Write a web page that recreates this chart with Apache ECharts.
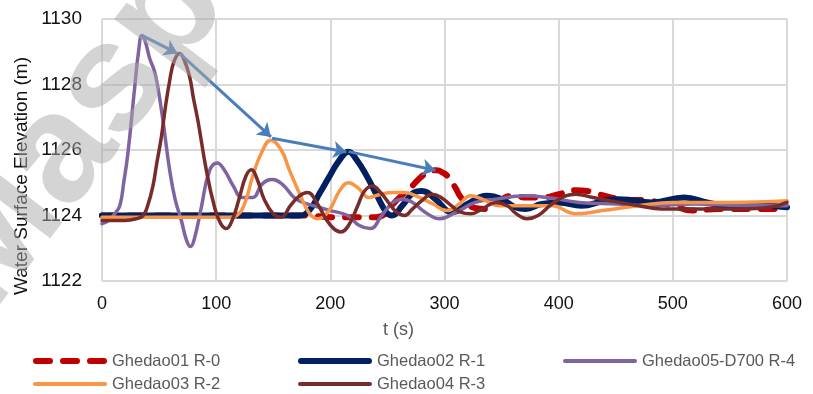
<!DOCTYPE html>
<html>
<head>
<meta charset="utf-8">
<script src="https://cdn.jsdelivr.net/npm/echarts@6/dist/echarts.min.js"></script>
<style>
  html, body { margin: 0; padding: 0; background: #fff; }
  #chart { width: 813px; height: 394px; }
</style>
</head>
<body>
<div id="chart"></div>
<script>
// axis ticks
const xTicks = [0, 100, 200, 300, 400, 500, 600]
const yTicks = [1122, 1124, 1126, 1128, 1130]

// [t (s), elevation (m)]
const ghedao01 = [[0,1124.0],[100,1124.0],[180,1124.0],[200,1123.95],[240,1123.95],[248,1124.05],[255,1124.35],[262,1124.6],[269,1124.8],[278,1125.13],[286,1125.33],[293,1125.38],[299,1125.3],[304,1125.15],[310,1124.82],[314,1124.57],[320,1124.35],[328,1124.22],[336,1124.2],[345,1124.35],[353,1124.55],[360,1124.6],[372,1124.55],[385,1124.55],[400,1124.65],[415,1124.77],[425,1124.75],[435,1124.65],[454,1124.5],[480,1124.45],[500,1124.3],[517,1124.15],[540,1124.2],[570,1124.2],[593,1124.2],[600,1124.3]]
const ghedao02 = [[0,1124.0],[100,1124.0],[173,1124.0],[181.7,1124.16],[190.5,1124.67],[199,1125.18],[208,1125.69],[216,1125.95],[223,1125.7],[232,1125.2],[241,1124.6],[249,1124.1],[254,1124.0],[263,1124.3],[273,1124.7],[280,1124.75],[292,1124.5],[302,1124.15],[307,1124.1],[320,1124.35],[337,1124.6],[350,1124.5],[362,1124.25],[371,1124.2],[385,1124.35],[400,1124.4],[420,1124.3],[440,1124.45],[453,1124.5],[482,1124.4],[510,1124.55],[530,1124.4],[550,1124.3],[580,1124.3],[600,1124.25]]
const ghedao05 = [[0,1123.75],[6,1123.85],[11,1124.05],[15.6,1124.3],[19,1125.0],[22.7,1125.9],[28.6,1127.9],[32,1129.0],[35,1129.5],[38,1129.3],[41.7,1128.8],[46,1128.4],[49,1127.9],[53.4,1126.9],[59.2,1125.4],[64,1124.5],[69.5,1123.85],[74,1123.25],[77.6,1123.05],[81,1123.3],[87,1124.25],[94,1125.35],[101,1125.6],[107,1125.4],[115,1124.9],[123,1124.55],[132,1124.55],[140,1124.95],[149,1125.1],[158,1124.95],[170,1124.5],[185,1124.3],[200,1124.15],[215,1124.0],[225,1123.7],[235,1123.6],[245,1124.0],[255,1124.4],[263,1124.5],[272,1124.4],[283,1124.1],[296,1123.9],[310,1124.1],[327,1124.4],[345,1124.5],[370,1124.6],[390,1124.55],[418,1124.4],[450,1124.35],[480,1124.3],[520,1124.35],[560,1124.3],[600,1124.3]]
const ghedao03 = [[0,1123.95],[50,1123.95],[100,1123.95],[112,1123.95],[118,1124.0],[124.8,1124.35],[132,1125.2],[139.5,1125.9],[148,1126.3],[157,1126.0],[164,1125.4],[173,1124.67],[181.7,1124.06],[189,1123.9],[199,1124.16],[208,1124.75],[216,1125.0],[224,1124.85],[234,1124.55],[244,1124.65],[255,1124.7],[265,1124.7],[278,1124.55],[290,1124.35],[302,1124.15],[313,1124.35],[323,1124.6],[333,1124.5],[348,1124.3],[370,1124.3],[394,1124.3],[415,1124.05],[438,1124.15],[470,1124.3],[500,1124.4],[550,1124.4],[600,1124.45]]
const ghedao04 = [[0,1123.85],[20,1123.85],[30,1123.9],[36,1124.0],[40,1124.3],[44.6,1124.9],[48,1125.6],[52,1126.4],[55.5,1127.3],[59.2,1128.1],[63,1128.7],[68,1128.95],[72,1128.75],[76.7,1128.25],[80,1127.6],[84,1126.9],[91.3,1125.4],[98.6,1124.25],[104,1123.75],[109,1123.6],[114,1123.85],[120,1124.5],[126,1125.2],[131,1125.4],[136,1125.1],[142,1124.5],[150,1124.05],[157,1123.95],[165,1124.3],[173,1124.6],[180,1124.7],[188,1124.4],[196,1123.9],[203,1123.6],[209,1123.5],[216,1123.7],[224,1124.3],[230,1124.75],[237,1124.9],[244,1124.7],[252,1124.35],[258,1124.1],[265,1124.0],[272,1124.2],[280,1124.45],[289,1124.65],[297,1124.55],[306,1124.3],[314,1124.1],[323,1124.05],[333,1124.2],[345,1124.4],[355,1124.3],[363,1124.05],[372,1123.9],[382,1124.0],[394,1124.35],[406,1124.6],[415,1124.65],[430,1124.55],[453,1124.4],[470,1124.3],[490,1124.2],[520,1124.2],[560,1124.2],[585,1124.25],[600,1124.4]]

// peak-to-peak arrows
const arrows = [
  [[35, 1129.5], [66, 1128.95]],
  [[68, 1128.95], [148, 1126.4]],
  [[149, 1126.36], [214, 1125.94]],
  [[216, 1125.95], [292, 1125.38]]
]

const legendRow1 = ['Ghedao01 R-0', 'Ghedao02 R-1', 'Ghedao05-D700 R-4']
const legendRow2 = ['Ghedao03 R-2', 'Ghedao04 R-3']

// legend icons drawn as paths (dashed capsules / solid bars)
const dashIcon = 'path://M3 0H17A3 3 0 0 1 17 6H3A3 3 0 0 1 3 0Z M30 0H44A3 3 0 0 1 44 6H30A3 3 0 0 1 30 0Z M57 0H71A3 3 0 0 1 71 6H57A3 3 0 0 1 57 0Z'
const thickIcon = 'path://M3 0H71A3 3 0 0 1 71 6H3A3 3 0 0 1 3 0Z'
const thinIcon = 'path://M2 0H72A2 2 0 0 1 72 4H2A2 2 0 0 1 2 0Z'

const chart = echarts.init(document.getElementById('chart'), null, { renderer: 'canvas' })

const gridLine = { show: true, lineStyle: { color: '#d9d9d9', width: 2 } }

const lineSeries = (name, data, color, width, dash) => ({
  name,
  type: 'line',
  data,
  smooth: 0.45,
  symbol: 'none',
  showSymbol: false,
  lineStyle: { color, width, type: dash || 'solid', cap: 'round', join: 'round' },
  itemStyle: { color },
  z: 3
})

const legendBase = {
  left: 28,
  width: 800,
  itemWidth: 74,
  itemHeight: 12,
  itemGap: 12,
  symbolKeepAspect: true,
  textStyle: { color: '#595959', fontFamily: 'Liberation Sans', fontSize: 16.5, width: 174, lineHeight: 18 }
}

chart.setOption({
  animation: false,
  grid: { left: 102, right: 26, top: 19, bottom: 113 },
  xAxis: {
    type: 'value',
    min: xTicks[0],
    max: xTicks[xTicks.length - 1],
    interval: 100,
    axisLine: { show: false },
    axisTick: { show: false },
    splitLine: gridLine,
    axisLabel: { color: '#111', fontFamily: 'Liberation Sans', fontSize: 18, margin: 14, formatter: v => String(v) }
  },
  yAxis: {
    type: 'value',
    min: yTicks[0],
    max: yTicks[yTicks.length - 1],
    interval: 2,
    axisLine: { show: false },
    axisTick: { show: false },
    splitLine: gridLine,
    axisLabel: { color: '#111', fontFamily: 'Liberation Sans', fontSize: 19, margin: 20, formatter: v => String(v) }
  },
  legend: [
    Object.assign({}, legendBase, {
      top: 347,
      data: [
        { name: legendRow1[0], icon: dashIcon },
        { name: legendRow1[1], icon: thickIcon },
        { name: legendRow1[2], icon: thinIcon }
      ]
    }),
    Object.assign({}, legendBase, {
      top: 370,
      data: [
        { name: legendRow2[0], icon: thinIcon },
        { name: legendRow2[1], icon: thinIcon }
      ]
    })
  ],
  graphic: [
    {
      type: 'text', x: 22, y: 176, rotation: Math.PI / 2,
      style: { text: 'Water Surface Elevation (m)', fill: '#111', font: '19px "Liberation Sans"', textAlign: 'center', textVerticalAlign: 'middle' }
    },
    {
      type: 'text', x: 383, y: 330,
      style: { text: 't (s)', fill: '#595959', font: '18px "Liberation Sans"', textAlign: 'left', textVerticalAlign: 'middle' }
    },
    {
      type: 'text', x: 18, y: 338, rotation: 0.92, z: 100,
      style: { text: 'Masp', fill: 'rgba(170,170,170,0.5)', font: 'bold 155px "Liberation Sans"', textAlign: 'left', textVerticalAlign: 'bottom' }
    }
  ],
  series: [
    lineSeries(legendRow1[0], ghedao01, '#c00000', 6, [14, 13]),
    lineSeries(legendRow1[1], ghedao02, '#002060', 6),
    lineSeries(legendRow1[2], ghedao05, '#8064a2', 3.5),
    lineSeries(legendRow2[0], ghedao03, '#f79646', 3.5),
    lineSeries(legendRow2[1], ghedao04, '#772c2a', 3.5),
    {
      type: 'lines',
      coordinateSystem: 'cartesian2d',
      data: arrows.map(c => ({ coords: c })),
      symbol: ['none', 'arrow'],
      symbolSize: 13,
      lineStyle: { color: '#4a7ebb', width: 3, opacity: 1, curveness: 0 },
      z: 5,
      silent: true
    }
  ]
})
</script>
</body>
</html>
